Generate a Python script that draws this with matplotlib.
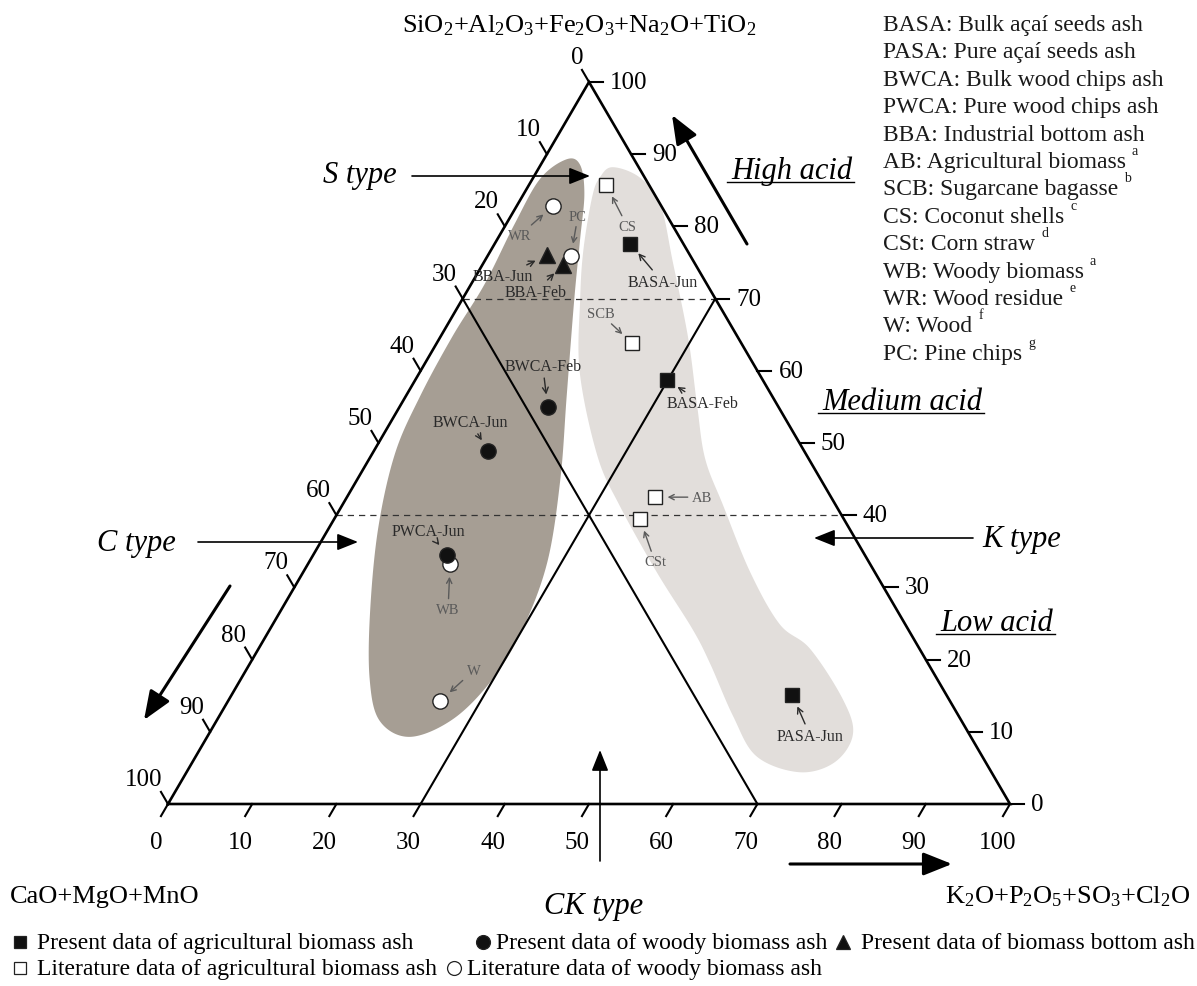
# Ternary diagram of biomass ash chemistry (S / C / K / CK type classification)
import numpy as np
import matplotlib.pyplot as plt

plt.rcParams['font.family'] = ['Liberation Serif', 'DejaVu Serif']
plt.rcParams['mathtext.fontset'] = 'custom'
plt.rcParams['mathtext.rm'] = 'Liberation Serif'
plt.rcParams['mathtext.it'] = 'Liberation Serif:italic'

# ── data: oxide sums in wt.%  (S = SiO2+Al2O3+..., C = CaO+MgO+MnO, K = K2O+P2O5+...)
agri_present = ['BASA-Jun', 'BASA-Feb', 'PASA-Jun']
agri_present_S = [77.6, 58.7, 15.1]
agri_present_C = [6.3, 11.4, 18.3]
agri_present_K = [16.1, 29.9, 66.6]

woody_present = ['BWCA-Feb', 'BWCA-Jun', 'PWCA-Jun']
woody_present_S = [55.0, 48.9, 34.5]
woody_present_C = [27.4, 37.5, 49.6]
woody_present_K = [17.6, 13.6, 15.9]

bottom_present = ['BBA-Jun', 'BBA-Feb']
bottom_present_S = [76.0, 74.7]
bottom_present_C = [17.0, 15.7]
bottom_present_K = [7.0, 9.6]

agri_lit = ['AB', 'SCB', 'CS', 'CSt']
agri_lit_S = [42.5, 63.9, 85.7, 39.5]
agri_lit_C = [20.9, 13.0, 5.1, 24.2]
agri_lit_K = [36.6, 23.1, 9.2, 36.3]

woody_lit = ['WB', 'WR', 'W', 'PC']
woody_lit_S = [33.2, 82.8, 14.3, 75.9]
woody_lit_C = [49.9, 12.9, 60.5, 14.2]
woody_lit_K = [16.9, 4.3, 25.2, 9.9]

# envelopes of the woody and agricultural fields (S, K in %)
woody_field_S = [89.3, 88.5, 84.5, 78.3, 69.9, 56.5, 45.0, 33.5, 24.2, 17.3, 11.8,
                 9.3, 11.5, 17.3, 26.6, 38.1, 48.5, 56.5, 64.8, 72.0, 80.3, 86.6]
woody_field_K = [2.7, 4.7, 7.2, 9.8, 13.3, 19.1, 24.1, 28.3, 30.0, 29.9, 28.0,
                 24.1, 19.4, 15.3, 10.7, 5.9, 2.7, 1.7, 1.4, 1.6, 1.0, 0.9]
agri_field_S = [88.2, 86.8, 83.1, 75.1, 64.4, 55.1, 47.8, 41.3, 32.1, 24.9, 21.5, 14.5,
                9.7, 5.8, 4.4, 6.6, 12.2, 19.4, 24.2, 32.1, 41.3, 48.2, 59.8, 69.9,
                76.9, 84.2, 86.8]
agri_field_K = [8.7, 12.6, 16.9, 22.4, 29.6, 35.3, 39.9, 45.3, 53.1, 60.2, 65.5, 72.9,
                76.5, 76.3, 72.8, 66.6, 61.0, 54.7, 50.2, 42.0, 33.0, 26.9, 19.0, 14.0,
                10.9, 8.3, 7.9]

ticks = list(range(0, 101, 10))

abbrev_lines = ['BASA: Bulk açaí seeds ash', 'PASA: Pure açaí seeds ash',
                'BWCA: Bulk wood chips ash', 'PWCA: Pure wood chips ash',
                'BBA: Industrial bottom ash', 'AB: Agricultural biomass',
                'SCB: Sugarcane bagasse', 'CS: Coconut shells', 'CSt: Corn straw',
                'WB: Woody biomass', 'WR: Wood residue', 'W: Wood', 'PC: Pine chips']
abbrev_refs = ['', '', '', '', '', 'a', 'b', 'c', 'd', 'a', 'e', 'f', 'g']

# label offsets from each point (pixels, y downwards)
label_offset = {
    'BASA-Jun': (32, 38), 'BASA-Feb': (36, 23), 'PASA-Jun': (18, 41),
    'BWCA-Feb': (-5, -41), 'BWCA-Jun': (-18, -29), 'PWCA-Jun': (-19, -24),
    'BBA-Jun': (-44, 21), 'BBA-Feb': (-28, 27),
    'AB': (47, 0), 'SCB': (-31, -29), 'CS': (21, 41), 'CSt': (15, 43),
    'WB': (-2, 45), 'WR': (-33, 29), 'W': (33, -30), 'PC': (7, -40),
}

# ── frame: triangle placed in a 1197 x 987 px canvas
W_PX, H_PX = 1197, 987
LEFT, RIGHT, BASE, APEX = 168, 1010, 805, 83
SX, SY = RIGHT - LEFT, BASE - APEX


def tern(s, c, k):
    s, c, k = (np.asarray(v, dtype=float) for v in (s, c, k))
    tot = s + c + k
    return k / tot + 0.5 * s / tot, s / tot


def px(x, y):
    return (x - LEFT) / SX, (BASE - y) / SY


def smooth_closed(x, y, n=24):
    pts = np.column_stack([x, y])
    m = len(pts)
    t = np.linspace(0, 1, n, endpoint=False)[:, None]
    out = []
    for i in range(m):
        p0, p1, p2, p3 = pts[(i - 1) % m], pts[i], pts[(i + 1) % m], pts[(i + 2) % m]
        out.append(0.5 * (2 * p1 + (p2 - p0) * t + (2 * p0 - 5 * p1 + 4 * p2 - p3) * t ** 2
                          + (3 * p1 - p0 - 3 * p2 + p3) * t ** 3))
    out = np.vstack(out)
    return out[:, 0], out[:, 1]


fig = plt.figure(figsize=(W_PX / 100, H_PX / 100), dpi=100)
ax = fig.add_axes([0, 0, 1, 1])
ax.set_xlim(px(0, 0)[0], px(W_PX, 0)[0])
ax.set_ylim(px(0, H_PX)[1], px(0, 0)[1])
ax.axis('off')

# shaded fields
for fs, fk, col in [(woody_field_S, woody_field_K, '#a69e94'),
                    (agri_field_S, agri_field_K, '#e2dedb')]:
    fc = 100 - np.array(fs) - np.array(fk)
    fx, fy = tern(fs, fc, fk)
    sx, sy = smooth_closed(fx, fy)
    ax.fill(sx, sy, color=col, lw=0, zorder=1)

# triangle frame
tx, ty = tern([0, 100, 0, 0], [100, 0, 0, 100], [0, 0, 100, 0])
ax.plot(tx, ty, color='black', lw=1.9, zorder=3, solid_joinstyle='miter')

# dividing lines (C = 30, K = 30) and acid-level dashes (S = 70, S = 40)
for s, c, k in [([70, 0], [30, 30], [0, 70]), ([70, 0], [0, 70], [30, 30])]:
    lx, ly = tern(s, c, k)
    ax.plot(lx, ly, color='black', lw=1.5, zorder=3)
for lev in (70, 40):
    lx, ly = tern([lev, lev], [100 - lev, 0], [0, 100 - lev])
    ax.plot(lx, ly, color='#333333', lw=0.9, ls=(0, (5, 4)), zorder=2)

# ticks and tick labels
TL = 14
ux, uy = 0.5 * SX, SY
un = np.hypot(ux, uy)
dxp, dyp = ux / un * TL, uy / un * TL   # pixel components along a side
for v in ticks:
    # bottom axis: K
    bx, by = tern(0, 100 - v, v)
    ax.plot([bx, bx - dxp / SX], [by, by - dyp / SY], color='black', lw=1.5, zorder=3)
    ax.text(bx - 12 / SX, by - 38 / SY, str(v), ha='center', va='center', fontsize=18)
    # left axis: C
    lx, ly = tern(100 - v, v, 0)
    ax.plot([lx, lx - dxp / SX], [ly, ly + dyp / SY], color='black', lw=1.5, zorder=3)
    ax.text(lx - 6 / SX, ly + 25 / SY, str(v), ha='right', va='center', fontsize=18)
    # right axis: S
    rx, ry = tern(v, 0, 100 - v)
    ax.plot([rx, rx + TL / SX], [ry, ry], color='black', lw=1.5, zorder=3)
    ax.text(rx + 21 / SX, ry, str(v), ha='left', va='center', fontsize=18)

# data points
series = [
    (agri_lit, agri_lit_S, agri_lit_C, agri_lit_K, 's', 'white', 10, True),
    (woody_lit, woody_lit_S, woody_lit_C, woody_lit_K, 'o', 'white', 11, True),
    (agri_present, agri_present_S, agri_present_C, agri_present_K, 's', '#111111', 10, False),
    (woody_present, woody_present_S, woody_present_C, woody_present_K, 'o', '#111111', 11, False),
    (bottom_present, bottom_present_S, bottom_present_C, bottom_present_K, '^', '#111111', 11, False),
]
for names, s, c, k, mk, fcol, ms, lit in series:
    x, y = tern(s, c, k)
    ax.plot(x, y, ls='none', marker=mk, ms=ms, mfc=fcol, mec='#222222', mew=1.0,
            zorder=5 if lit else 6)
    tcol = '#5a5a5a' if lit else '#2a2a2a'
    for name, xi, yi in zip(names, x, y):
        dx, dy = label_offset[name]
        ax.annotate(name, xy=(xi, yi), xytext=(dx * 0.72, -dy * 0.72),
                    textcoords='offset points', ha='center', va='center',
                    fontsize=10.5 if lit else 11.5, color=tcol, zorder=7,
                    arrowprops=dict(arrowstyle='->,head_length=0.35,head_width=0.18',
                                    color=tcol, lw=1.0, shrinkA=1, shrinkB=9))


# decorative arrows
def arrow(tail, head, lw, ms):
    ax.annotate('', xy=px(*head), xytext=px(*tail),
                arrowprops=dict(arrowstyle='-|>,head_length=0.8,head_width=0.32',
                                lw=lw, color='black', shrinkA=0, shrinkB=0,
                                mutation_scale=ms), zorder=4)


arrow((412, 177), (590, 177), 1.2, 16)
arrow((198, 543), (358, 543), 1.2, 16)
arrow((973, 539), (814, 539), 1.2, 16)
arrow((600, 862), (600, 751), 1.2, 16)
arrow((747, 245), (672, 116), 2.2, 22)
arrow((230, 587), (144, 721), 2.2, 22)
arrow((790, 865), (952, 865), 2.2, 22)

# axis titles
ax.text(*px(579, 26), 'SiO$_2$+Al$_2$O$_3$+Fe$_2$O$_3$+Na$_2$O+TiO$_2$',
        ha='center', va='center', fontsize=19)
ax.text(*px(10, 897), 'CaO+MgO+MnO', ha='left', va='center', fontsize=19)
ax.text(*px(1190, 897), 'K$_2$O+P$_2$O$_5$+SO$_3$+Cl$_2$O', ha='right', va='center', fontsize=19)

# type labels
ital = dict(fontsize=22, style='italic', va='center')
ax.text(*px(397, 176), 'S type', ha='right', **ital)
ax.text(*px(97, 544), 'C type', ha='left', **ital)
ax.text(*px(982, 539), 'K type', ha='left', **ital)
ax.text(*px(594, 907), 'CK type', ha='center', **ital)

renderer = fig.canvas.get_renderer()
inv = ax.transData.inverted()
for txt, (x0, base), halign in [('High acid', (852, 179), 'right'),
                                ('Medium acid', (822, 410), 'left'),
                                ('Low acid', (940, 631), 'left')]:
    t = ax.text(*px(x0, base), txt, ha=halign, va='baseline', fontsize=22, style='italic')
    bb = t.get_window_extent(renderer)
    xa = inv.transform((bb.x0, 0))[0]
    xb = inv.transform((bb.x1, 0))[0]
    uy_ = px(0, base + 4)[1]
    ax.plot([xa - 4 / SX, xb + 2 / SX], [uy_, uy_], color='black', lw=1.0)

# abbreviation list
for i, (line, ref) in enumerate(zip(abbrev_lines, abbrev_refs)):
    yb = 31 + 27.4 * i
    t = ax.text(*px(883, yb), line, ha='left', va='baseline', fontsize=17, color='#1a1a1a')
    if ref:
        bb = t.get_window_extent(renderer)
        xr = inv.transform((bb.x1, 0))[0]
        ax.text(xr + 6 / SX, px(0, yb - 13)[1], ref, ha='left', va='baseline',
                fontsize=10, color='#1a1a1a')

# symbol legend
legend_rows = [
    [('s', '#111111', 9, 'Present data of agricultural biomass ash', 20, 37),
     ('o', '#111111', 10, 'Present data of woody biomass ash', 483, 496),
     ('^', '#111111', 10, 'Present data of biomass bottom ash', 843, 861)],
    [('s', 'white', 9, 'Literature data of agricultural biomass ash', 20, 37),
     ('o', 'white', 10, 'Literature data of woody biomass ash', 454, 467)],
]
for row, yc in zip(legend_rows, (943, 969)):
    for mk, fcol, ms, label, xs, xt in row:
        ax.plot(*px(xs, yc), marker=mk, ms=ms, mfc=fcol, mec='#222222', mew=0.9,
                ls='none', clip_on=False)
        ax.text(*px(xt, yc + 1), label, ha='left', va='center', fontsize=17)

fig.savefig('out.png', dpi=100)
